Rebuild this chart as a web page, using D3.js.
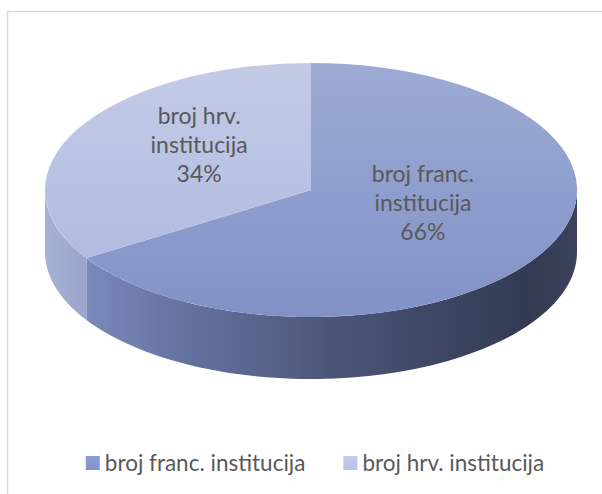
<!DOCTYPE html>
<html>
<head>
<meta charset="utf-8">
<script src="https://cdn.jsdelivr.net/npm/d3@7"></script>
<style>
  html, body { margin: 0; padding: 0; background: #fff; }
  svg { display: block; }
  text { font-family: Lato, "Open Sans", sans-serif; fill: #595959; }
</style>
</head>
<body>
<svg id="chart" width="602" height="494"></svg>
<script>
// Institution counts, shown as shares of the whole
const categories = ["broj franc. institucija", "broj hrv. institucija"];
const values = [66, 34];
const labelLines = [["broj franc.", "institucija"], ["broj hrv.", "institucija"]];

// Colours per slice: top face (light → darker), side wall, legend swatch
const topColors = [["#9daad4", "#8192c7"], ["#c3cbe6", "#b1bce0"]];
const sideColors = [
  [["0", "#7b88bb"], ["0.25", "#606d99"], ["0.5", "#4b5677"], ["0.75", "#3b4461"], ["0.9", "#333a52"], ["1", "#3b425b"]],
  [["0", "#a6b1d6"], ["1", "#9aa5cb"]]
];
const swatchColors = ["#8394c8", "#b9c3e2"];

const svg = d3.select("#chart");
const W = 602, H = 494;

// frame
svg.append("rect")
  .attr("x", 7.5).attr("y", 11.5)
  .attr("width", 640).attr("height", 520)
  .attr("fill", "#fff").attr("stroke", "#d9d9d9").attr("stroke-width", 1.5);

// ellipse geometry of the tilted disc
const cx = 311, cy = 190, rx = 266, ry = 127, depth = 62;

const pie = d3.pie().sort(null).value(d => d);
const slices = pie(values);
const total = d3.sum(values);
const pct = d3.format(".0%");

const defs = svg.append("defs");
slices.forEach((s, i) => {
  const gTop = defs.append("linearGradient")
    .attr("id", "top" + i).attr("x1", 0).attr("y1", 0).attr("x2", 0).attr("y2", 1);
  gTop.append("stop").attr("offset", 0).attr("stop-color", topColors[i][0]);
  gTop.append("stop").attr("offset", 1).attr("stop-color", topColors[i][1]);

  const gSide = defs.append("linearGradient")
    .attr("id", "side" + i).attr("x1", 0).attr("y1", 0).attr("x2", 1).attr("y2", 0);
  sideColors[i].forEach(([o, c]) => gSide.append("stop").attr("offset", o).attr("stop-color", c));

  const gSw = defs.append("linearGradient")
    .attr("id", "sw" + i).attr("x1", 0).attr("y1", 0).attr("x2", 0).attr("y2", 1);
  gSw.append("stop").attr("offset", 0).attr("stop-color", d3.color(swatchColors[i]).brighter(0.15));
  gSw.append("stop").attr("offset", 1).attr("stop-color", swatchColors[i]);
});

// point on the rim for a pie angle (0 = 12 o'clock, clockwise)
const rim = (a, dy = 0) => [cx + rx * Math.sin(a), cy - ry * Math.cos(a) + dy];
const line = d3.line();

// side walls: only the front half of the disc (pi/2 .. 3pi/2) is visible
const sides = svg.append("g");
slices.forEach((s, i) => {
  const a0 = Math.max(s.startAngle, Math.PI / 2);
  const a1 = Math.min(s.endAngle, 3 * Math.PI / 2);
  if (a1 <= a0) return;
  const n = 80;
  const angles = d3.range(n + 1).map(k => a0 + (a1 - a0) * k / n);
  const pts = angles.map(a => rim(a)).concat(angles.slice().reverse().map(a => rim(a, depth)));
  sides.append("path")
    .attr("d", line(pts) + "Z")
    .attr("fill", `url(#side${i})`);
});

// top faces
const arc = d3.arc().innerRadius(0).outerRadius(1);
svg.append("g")
  .attr("transform", `translate(${cx},${cy}) scale(${rx},${ry})`)
  .selectAll("path")
  .data(slices)
  .join("path")
  .attr("d", arc)
  .attr("fill", (d, i) => `url(#top${i})`);

// data labels, placed inside each slice
const lineH = 29;
const labelR = 0.48, labelLift = 16;
const labels = svg.append("g");
slices.forEach((s, i) => {
  const mid = (s.startAngle + s.endAngle) / 2;
  const lx = cx + labelR * rx * Math.sin(mid);
  const ly = cy - labelR * ry * Math.cos(mid) - labelLift;
  const lines = labelLines[i].concat([pct(values[i] / total)]);
  const t = labels.append("text")
    .attr("text-anchor", "middle")
    .attr("font-size", 23);
  lines.forEach((txt, k) => {
    t.append("tspan")
      .attr("x", lx)
      .attr("y", ly + (k - 1) * lineH)
      .attr("dy", "0.35em")
      .text(txt);
  });
});

// legend
const legend = svg.append("g");
const items = legend.selectAll("g").data(categories).join("g");
items.append("rect")
  .attr("width", 14).attr("height", 14)
  .attr("y", -7)
  .attr("fill", (d, i) => `url(#sw${i})`);
items.append("text")
  .attr("x", 19)
  .attr("dy", "0.35em")
  .attr("font-size", 22.5)
  .text(d => d);
const widths = [];
items.each(function () { widths.push(this.getBBox().width); });
const gap = 38;
const totalW = d3.sum(widths) + gap * (widths.length - 1);
const xStart = 315 - totalW / 2;
items.attr("transform", (d, i) => {
  const x = xStart + d3.sum(widths.slice(0, i)) + gap * i;
  return `translate(${x},463)`;
});
</script>
</body>
</html>
